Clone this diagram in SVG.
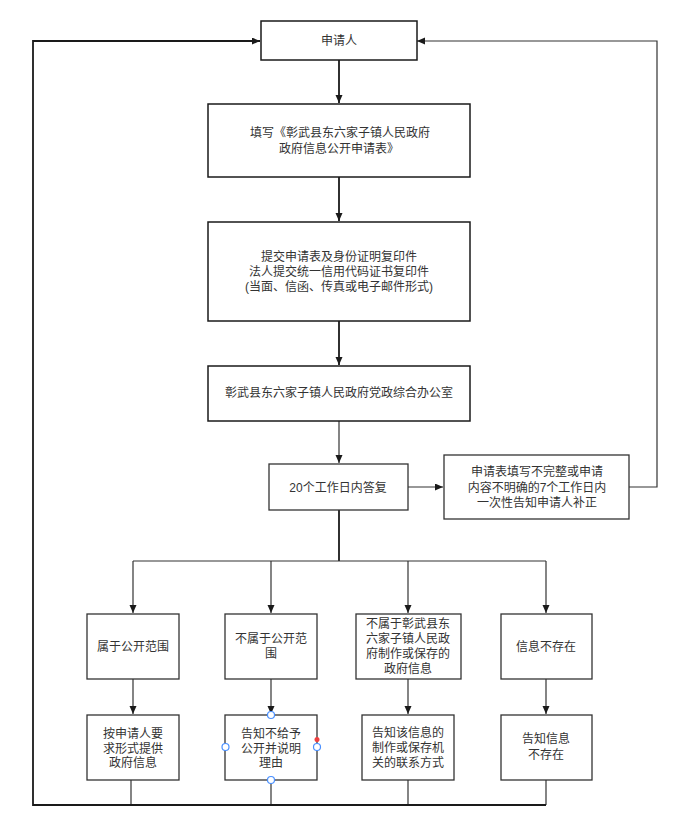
<svg xmlns="http://www.w3.org/2000/svg" width="682" height="830" viewBox="0 0 682 830">
<style>
.box{fill:#fff;stroke:#1a1a1a;stroke-width:1.5}
.box2{fill:#fff;stroke:#333;stroke-width:1.3}
text{font-family:"Liberation Sans","Noto Sans CJK SC",sans-serif;font-size:12px;fill:#333;text-anchor:middle}
.c{fill:none;stroke:#1a1a1a;stroke-width:1.8}
.t{fill:none;stroke:#333;stroke-width:1.2}
.h{fill:#fff;stroke:#4a90ff;stroke-width:1.2}
</style>
<defs>
<marker id="a" markerUnits="userSpaceOnUse" markerWidth="9" markerHeight="8" refX="8" refY="3.5" orient="auto">
<path d="M0,0 L8,3.5 L0,7 z" fill="#1a1a1a"/>
</marker>
</defs>
<rect width="682" height="830" fill="#fff"/>
<g id="connectors">
<path class="c" d="M339,60 V103" marker-end="url(#a)"/>
<path class="c" d="M339,177 V221" marker-end="url(#a)"/>
<path class="c" d="M339,321 V365" marker-end="url(#a)"/>
<path class="t" d="M339,421 V463" marker-end="url(#a)"/>
<path class="t" d="M408,487 H443" marker-end="url(#a)"/>
<path class="t" d="M629,487 H657 V41 H417" marker-end="url(#a)"/>
<path class="c" d="M339,510 V561"/>
<path class="t" d="M133,561 H546"/>
<path class="t" d="M133,561 V613" marker-end="url(#a)"/>
<path class="t" d="M271,561 V613" marker-end="url(#a)"/>
<path class="t" d="M408,561 V613" marker-end="url(#a)"/>
<path class="t" d="M546,561 V613" marker-end="url(#a)"/>
<path class="t" d="M133,679 V714" marker-end="url(#a)"/>
<path class="t" d="M271,679 V714" marker-end="url(#a)"/>
<path class="t" d="M408,679 V714" marker-end="url(#a)"/>
<path class="t" d="M546,679 V714" marker-end="url(#a)"/>
<path class="t" d="M131,780 V805"/>
<path class="t" d="M271,780 V805"/>
<path class="t" d="M408,780 V805"/>
<path class="t" d="M546,780 V805"/>
<path class="c" d="M546,805 H33 V41 H260" marker-end="url(#a)"/>
</g>
<g id="n1"><rect class="box" x="261" y="21" width="156" height="39"/><text x="339" y="45">申请人</text></g>
<g id="n2"><rect class="box" x="208" y="104" width="262" height="73"/><text x="340" y="137">填写《彰武县东六家子镇人民政府</text><text x="339" y="153">政府信息公开申请表》</text></g>
<g id="n3"><rect class="box" x="208" y="222" width="262" height="99"/><text x="339" y="261">提交申请表及身份证明复印件</text><text x="339" y="276">法人提交统一信用代码证书复印件</text><text x="339" y="291">(当面、信函、传真或电子邮件形式)</text></g>
<g id="n4"><rect class="box" x="208" y="366" width="262" height="55"/><text x="339" y="397">彰武县东六家子镇人民政府党政综合办公室</text></g>
<g id="n5"><rect class="box2" x="269" y="464" width="139" height="46"/><text x="338" y="492">20个工作日内答复</text></g>
<g id="n6"><rect class="box2" x="444" y="455" width="185" height="64"/><text x="537" y="476">申请表填写不完整或申请</text><text x="537" y="492">内容不明确的7个工作日内</text><text x="537" y="507">一次性告知申请人补正</text></g>
<g id="n7"><rect class="box2" x="87" y="614" width="92" height="65"/><text x="133" y="651">属于公开范围</text></g>
<g id="n8"><rect class="box2" x="225" y="614" width="92" height="65"/><text x="271" y="643">不属于公开范</text><text x="271" y="658">围</text></g>
<g id="n9"><rect class="box2" x="356" y="614" width="105" height="65"/><text x="408" y="628">不属于彰武县东</text><text x="408" y="643">六家子镇人民政</text><text x="408" y="658">府制作或保存的</text><text x="408" y="673">政府信息</text></g>
<g id="n10"><rect class="box2" x="501" y="614" width="91" height="65"/><text x="546" y="651">信息不存在</text></g>
<g id="n11"><rect class="box2" x="87" y="715" width="92" height="65"/><text x="133" y="738">按申请人要</text><text x="133" y="753">求形式提供</text><text x="133" y="767">政府信息</text></g>
<g id="n12"><rect class="box2" x="225" y="715" width="92" height="65"/><text x="271" y="738">告知不给予</text><text x="271" y="753">公开并说明</text><text x="271" y="767">理由</text>
<circle class="h" cx="271" cy="715" r="3.5"/><circle class="h" cx="225.5" cy="747" r="3.5"/><circle class="h" cx="317" cy="747" r="3.5"/><circle class="h" cx="271" cy="780" r="3.5"/><circle cx="317" cy="739.5" r="2.5" fill="#f04040"/></g>
<g id="n13"><rect class="box2" x="362" y="715" width="92" height="65"/><text x="408" y="737">告知该信息的</text><text x="408" y="752">制作或保存机</text><text x="408" y="767">关的联系方式</text></g>
<g id="n14"><rect class="box2" x="501" y="715" width="91" height="65"/><text x="546" y="743">告知信息</text><text x="546" y="759">不存在</text></g>
</svg>
